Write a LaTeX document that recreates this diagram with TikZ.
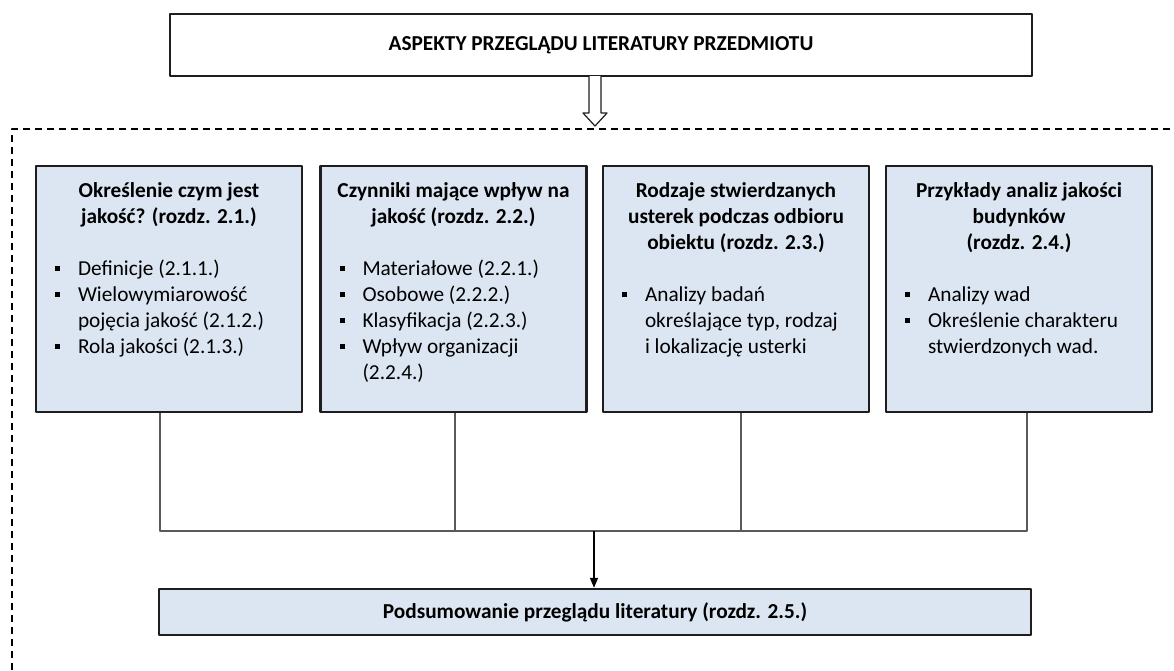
\documentclass[tikz,border=0pt]{standalone}
\usepackage{fontspec}
\setmainfont{Carlito}
\usetikzlibrary{arrows.meta}
\definecolor{jasnyniebieski}{HTML}{DCE6F2}
\definecolor{ramka}{HTML}{1E1E1E}
\definecolor{linia}{HTML}{5A5A5A}
\newcommand{\pismo}{\fontsize{21.3}{26}\selectfont\normalbaselineskip=26pt\relax}
\newcommand{\kw}{\rule[4pt]{5pt}{5pt}}
\newcommand{\pierwszy}{\rule{0pt}{31pt}}
\newcommand{\pkt}[1]{\par\noindent\hspace*{19pt}\makebox[23pt][l]{\kw}\parbox[t]{215pt}{\raggedright #1\strut}\par\prevdepth=\dp\strutbox}
\newcommand{\kafeltresc}[2]{\parbox[c][246pt][t]{266pt}{{\centering\bfseries\pierwszy #1\par}\vspace{26pt}#2}}
\begin{document}
\begin{tikzpicture}[x=1pt,y=-1pt,line join=round,
		font=\pismo,
		naglowek/.style={draw=ramka,line width=2.4pt,fill=white,minimum width=862pt,minimum height=62pt,inner sep=0pt},
		kafel/.style={draw=ramka,line width=2.4pt,fill=jasnyniebieski,inner sep=0pt},
		podsum/.style={draw=ramka,line width=2.4pt,fill=jasnyniebieski,minimum width=872pt,minimum height=46pt,inner sep=0pt},
		polaczenie/.style={draw=linia,line width=1.2pt},
		strzalka/.style={draw=black,line width=1.2pt,-{Triangle[length=10pt,width=8pt]}},
		blokowa/.style={draw=ramka,line width=1.2pt,fill=white},
		obszar/.style={draw=black,line width=2pt,dash pattern=on 7pt off 5pt}]
	\useasboundingbox (0,0) rectangle (1174,670);
	%%Ramka przerywana
	\draw[obszar] (12,670)--(12,129)--(1174,129);
	%%Naglowek
	\node[naglowek] (aspekty) at (601,45) {\bfseries ASPEKTY PRZEGLĄDU LITERATURY PRZEDMIOTU};
	\path (595,76) coordinate (st);
	\draw[blokowa] (st)++(-6,0)--++(0,37)--++(-6,0)--++(12,13)--++(12,-13)--++(-6,0)--++(0,-37);
	%%Kafle
	\node[kafel] (k1) at (169,289) {\kafeltresc{Określenie czym jest\\jakość? (rozdz. 2.1.)}{%
			\pkt{Definicje (2.1.1.)}
			\pkt{Wielowymiarowość\\pojęcia jakość (2.1.2.)}
			\pkt{Rola jakości (2.1.3.)}}};
	\node[kafel] (k2) at (453.5,289) {\kafeltresc{Czynniki mające wpływ na\\jakość (rozdz. 2.2.)}{%
			\pkt{Materiałowe (2.2.1.)}
			\pkt{Osobowe (2.2.2.)}
			\pkt{Klasyfikacja (2.2.3.)}
			\pkt{Wpływ organizacji\\(2.2.4.)}}};
	\node[kafel] (k3) at (736,289) {\kafeltresc{Rodzaje stwierdzanych\\usterek podczas odbioru\\obiektu (rozdz. 2.3.)}{%
			\pkt{Analizy badań\\określające typ, rodzaj\\i lokalizację usterki}}};
	\node[kafel] (k4) at (1019,289) {\kafeltresc{Przykłady analiz jakości\\budynków\\(rozdz. 2.4.)}{%
			\pkt{Analizy wad}
			\pkt{Określenie charakteru\\stwierdzonych wad.}}};
	%%Podsumowanie
	\node[podsum] (podsum) at (595,612) {\bfseries Podsumowanie przeglądu literatury (rozdz. 2.5.)};
	%%Polaczenia
	\path (594,531) coordinate (zb)
		(160,0) coordinate (x1) (455,0) coordinate (x2) (741,0) coordinate (x3) (1027,0) coordinate (x4);
	\foreach \k/\x in {k1/x1,k2/x2,k3/x3,k4/x4}{
			\draw[polaczenie] (\k.south-|\x)|-(zb);
		}
	\draw[strzalka] (zb)--(zb|-podsum.north);
\end{tikzpicture}
\end{document}
